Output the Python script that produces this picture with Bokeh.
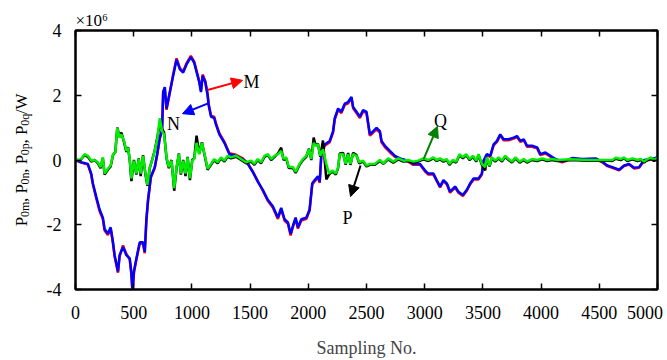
import math
from bokeh.plotting import figure
from bokeh.layouts import row
from bokeh.models import Arrow, NormalHead, LinearAxis, FixedTicker, Title, Label
from bokeh.core.properties import value
from bokeh.embed import file_html
from bokeh.resources import INLINE

# ---------------- data (values in units of 1e6 W) ----------------
sample_mn = [
    0, 49, 106, 135, 149, 178, 207, 235, 250, 278,
    302, 322, 336, 365, 379, 408, 437, 466, 480, 490,
    502, 523, 552, 580, 595, 609, 623, 647, 681, 704,
    724, 744, 753, 767, 782, 810, 839, 868, 897, 925,
    954, 991, 1020, 1063, 1078, 1092, 1115, 1135, 1144, 1164,
    1192, 1207, 1236, 1279, 1322, 1379, 1437, 1480, 1523, 1566,
    1609, 1652, 1695, 1739, 1767, 1796, 1825, 1848, 1868, 1891,
    1911, 1940, 1983, 2011, 2034, 2055, 2083, 2098, 2112, 2141,
    2184, 2213, 2227, 2256, 2284, 2313, 2342, 2371, 2385, 2414,
    2443, 2471, 2500, 2529, 2558, 2586, 2615, 2629, 2658, 2701,
    2744, 2802, 2859, 2902, 2960, 3002, 3031, 3075, 3103, 3132,
    3161, 3190, 3218, 3261, 3290, 3328, 3362, 3391, 3420, 3463,
    3491, 3506, 3534, 3563, 3592, 3621, 3649, 3678, 3721, 3764,
    3793, 3822, 3851, 3879, 3922, 3966, 3994, 4037, 4080, 4123,
    4181, 4267, 4353, 4468, 4526, 4569, 4612, 4670, 4713, 4756,
    4799, 4842, 4885, 4943, 4986, 5000,
]
n_vals = [
    0, -0.07, -0.12, -0.42, -0.72, -1.13, -1.53, -1.78, -2.13, -2.28,
    -2.08, -2.54, -2.94, -3.44, -2.94, -2.69, -2.94, -3.04, -3.49, -4.1,
    -3.44, -3.04, -2.54, -2.54, -2.84, -1.83, -1.23, -0.52, -0.22, 0.23,
    0.69, 0.94, 2.10, 2.25, 1.59, 2.10, 2.60, 3.10, 2.80, 2.70,
    2.95, 3.18, 3.00, 2.40, 2.10, 2.60, 2.40, 2.00, 1.69, 1.34,
    1.29, 1.09, 0.79, 0.53, 0.18, 0.13, 0.03, -0.12, -0.37, -0.67,
    -0.92, -1.23, -1.43, -1.78, -1.48, -1.83, -1.93, -2.28, -2.03, -1.78,
    -2.08, -1.83, -1.78, -1.53, -0.72, -0.62, -0.50, -0.67, 0.18, 0.48,
    0.59, 0.89, 1.29, 1.59, 1.49, 1.74, 1.79, 1.95, 1.64, 1.49,
    1.34, 1.54, 1.49, 0.79, 0.89, 0.99, 0.89, 0.59, 0.44, 0.28,
    0.13, 0.03, -0.02, -0.12, -0.12, -0.32, -0.42, -0.42, -0.62, -0.82,
    -0.62, -0.72, -0.98, -0.82, -0.98, -1.08, -0.92, -0.72, -0.57, -0.57,
    -0.42, -0.02, 0.18, 0.13, 0.48, 0.59, 0.79, 0.64, 0.64, 0.69,
    0.74, 0.59, 0.64, 0.44, 0.44, 0.39, 0.18, 0.23, 0.13, 0.03,
    -0.05, 0.06, 0.03, 0.05, -0.05, -0.17, -0.22, -0.30, -0.17, -0.12,
    -0.24, -0.22, 0.0, 0.03, 0.06, 0.12,
]
m_vals = [
    0, -0.08, -0.14, -0.45, -0.75, -1.18, -1.58, -1.82, -2.18, -2.32,
    -2.12, -2.58, -2.98, -3.48, -2.98, -2.64, -2.90, -3.08, -3.52, -4.1,
    -3.48, -3.08, -2.58, -2.58, -2.88, -1.88, -1.28, -0.55, -0.25, 0.20,
    0.66, 0.91, 2.06, 2.22, 1.55, 2.06, 2.64, 3.14, 2.84, 2.74,
    2.99, 3.22, 3.04, 2.44, 2.14, 2.64, 2.44, 2.04, 1.73, 1.38,
    1.33, 1.13, 0.83, 0.56, 0.21, 0.16, 0.05, -0.10, -0.35, -0.65,
    -0.95, -1.26, -1.47, -1.82, -1.52, -1.87, -1.97, -2.33, -2.07, -1.82,
    -2.12, -1.87, -1.82, -1.57, -0.76, -0.66, -0.54, -0.71, 0.14, 0.44,
    0.55, 0.85, 1.25, 1.55, 1.45, 1.70, 1.75, 1.91, 1.60, 1.45,
    1.30, 1.50, 1.45, 0.75, 0.85, 0.95, 0.85, 0.55, 0.40, 0.24,
    0.10, 0.0, -0.05, -0.15, -0.15, -0.35, -0.45, -0.45, -0.65, -0.85,
    -0.65, -0.75, -1.01, -0.85, -1.01, -1.11, -0.95, -0.75, -0.60, -0.60,
    -0.45, -0.05, 0.15, 0.10, 0.45, 0.56, 0.76, 0.61, 0.61, 0.66,
    0.71, 0.56, 0.61, 0.41, 0.41, 0.36, 0.15, 0.20, 0.10, 0.0,
    -0.07, 0.04, 0.01, 0.03, -0.07, -0.19, -0.24, -0.32, -0.19, -0.14,
    -0.26, -0.24, -0.02, 0.01, 0.04, 0.10,
]
sample_pq = [
    0, 43, 78, 106, 135, 164, 192, 215, 235, 250,
    278, 302, 322, 342, 359, 379, 394, 417, 437, 451,
    466, 480, 502, 523, 543, 560, 580, 601, 618, 638,
    658, 681, 704, 724, 744, 761, 782, 802, 825, 848,
    868, 888, 905, 925, 945, 963, 983, 1003, 1020, 1040,
    1063, 1086, 1115, 1135, 1164, 1192, 1221, 1250, 1279, 1307,
    1336, 1379, 1422, 1465, 1509, 1537, 1566, 1595, 1624, 1652,
    1681, 1710, 1739, 1767, 1787, 1810, 1833, 1868, 1891, 1925,
    1954, 1983, 2006, 2026, 2046, 2063, 2083, 2103, 2126, 2155,
    2178, 2207, 2236, 2256, 2270, 2299, 2321, 2342, 2362, 2385,
    2414, 2437, 2471, 2500, 2529, 2572, 2615, 2644, 2687, 2730,
    2773, 2816, 2859, 2902, 2945, 2988, 3031, 3075, 3103, 3132,
    3161, 3190, 3213, 3241, 3270, 3299, 3328, 3356, 3385, 3414,
    3443, 3463, 3491, 3520, 3534, 3557, 3577, 3606, 3635, 3664,
    3692, 3721, 3750, 3779, 3816, 3851, 3879, 3922, 3966, 4009,
    4052, 4095, 4138, 4250, 4400, 4584, 4612, 4641, 4684, 4713,
    4741, 4785, 4828, 4857, 4885, 4914, 4943, 4971, 5000,
]
q_vals = [
    0, 0, 0.18, 0.13, -0.02, 0.0, -0.07, -0.22, 0.08, -0.42,
    -0.27, -0.17, 0.18, 0.23, 0.99, 0.69, 0.79, 0.59, 0.28, 0.38,
    0.03, -0.57, -0.02, -0.42, 0.03, -0.42, 0.13, -0.42, -0.77, -0.22,
    -0.02, 0.28, 0.69, 1.29, 0.89, 0.79, 0.08, -0.22, -0.02, -0.87,
    -0.22, 0.18, -0.42, -0.02, -0.42, 0.08, -0.57, -0.02, 0.03, 0.53,
    0.18, 0.53, 0.08, -0.27, -0.12, 0.03, -0.07, 0.08, -0.02, 0.13,
    0.08, 0.13, 0.03, -0.07, -0.02, -0.12, 0.03, -0.07, 0.13, 0.18,
    0.03, 0.13, 0.18, 0.28, 0.03, 0.08, -0.22, -0.22, -0.37, -0.12,
    0.03, 0.13, 0.33, 0.03, 0.53, 0.44, 0.48, 0.13, 0.33, -0.12,
    -0.42, -0.32, -0.42, -0.22, 0.18, 0.18, -0.12, 0.18, -0.12, 0.18,
    0.13, -0.07, -0.02, -0.17, -0.12, -0.12, 0.0, -0.10, 0.05, -0.05,
    0.05, -0.02, 0.0, -0.05, -0.02, 0.05, 0.0, 0.08, 0.0, 0.05,
    -0.02, 0.03, -0.12, 0.0, -0.05, 0.18, 0.08, 0.18, 0.03, 0.13,
    -0.02, 0.18, -0.12, -0.22, 0.08, -0.17, 0.08, -0.02, 0.08, -0.02,
    0.13, 0.03, -0.05, 0.08, -0.05, 0.03, -0.05, 0.03, 0.0, 0.05,
    0.0, 0.03, 0.0, 0.02, 0.0, 0.0, 0.0, 0.07, 0.03, 0.08,
    0.0, 0.05, 0.0, 0.03, -0.05, 0.03, 0.08, 0.0, 0.08,
]
p_vals = [
    0, 0, 0.15, 0.10, -0.05, 0.0, -0.10, -0.25, 0.05, -0.45,
    -0.30, -0.20, 0.15, 0.25, 1.00, 0.72, 0.85, 0.55, 0.25, 0.40,
    0.0, -0.65, 0.0, -0.45, 0.05, -0.50, 0.15, -0.45, -0.80, -0.25,
    0.0, 0.30, 0.72, 1.10, 0.95, 0.85, 0.05, -0.25, 0.0, -0.95,
    -0.25, 0.20, -0.45, 0.0, -0.50, 0.10, -0.62, 0.0, 0.05, 0.75,
    0.20, 0.55, 0.05, -0.30, -0.15, 0.0, -0.10, 0.05, -0.05, 0.10,
    0.05, 0.10, 0.0, -0.10, -0.05, -0.15, 0.0, -0.10, 0.10, 0.15,
    0.0, 0.10, 0.20, 0.38, 0.0, 0.05, -0.25, -0.25, -0.40, -0.15,
    0.0, 0.10, 0.35, 0.0, 0.69, 0.45, 0.50, 0.10, 0.60, -0.60,
    -0.45, -0.35, -0.45, -0.25, 0.20, 0.22, -0.15, 0.22, -0.15, 0.22,
    0.15, -0.10, -0.05, -0.20, -0.15, -0.15, -0.03, -0.12, 0.02, -0.08,
    0.02, -0.05, -0.03, -0.08, -0.05, 0.02, -0.03, 0.05, -0.03, 0.02,
    -0.05, 0.0, -0.15, -0.03, -0.08, 0.15, 0.05, 0.15, 0.0, 0.10,
    -0.05, 0.15, -0.15, -0.32, 0.05, -0.20, 0.05, -0.05, 0.05, -0.05,
    0.10, 0.0, -0.08, 0.05, -0.08, 0.0, -0.08, 0.0, -0.03, 0.02,
    -0.03, 0.0, -0.03, 0.0, -0.02, -0.02, -0.03, 0.04, 0.0, 0.05,
    -0.03, 0.02, -0.03, 0.0, -0.08, 0.0, 0.05, -0.03, 0.05,
]

x_ticks = [0, 500, 1000, 1500, 2000, 2500, 3000, 3500, 4000, 4500, 5000]
y_ticks = [-4, -2, 0, 2, 4]
y_tick_labels = ["-4", "-2", "0", "2", "4"]
scale_text = "\u00d710\u2076"

# annotation arrows: name, start, end, label position
arrow_names = ["M", "N", "P", "Q"]
arrow_start_x = [1134, 1134, 2449, 2990]
arrow_start_y = [2.16, 1.74, -0.17, 0.02]
arrow_end_x = [1435, 919, 2363, 3110]
arrow_end_y = [2.46, 1.43, -1.13, 1.04]
arrow_text_x = [1512, 842, 2337, 3136]
arrow_text_y = [2.40, 1.10, -1.80, 1.22]
arrow_colors = ["#ff0000", "#0000ff", "#000000", "#008000"]

# y-axis label pieces (text, is_subscript)
ylabel_pieces = ["P", "0m", ", P", "0n", ", P", "0p", ", P", "0q", "/W"]
ylabel_is_sub = [False, True, False, True, False, True, False, True, False]

# ---------------- layout ----------------
FONT = "Liberation Serif"
TOTAL_W, H = 667, 360
LW = 36                       # narrow strip holding the rotated y label
W = TOTAL_W - LW
ML, MR, MT, MB = 75 - LW, 10, 30, 65
X0, X1, Y0, Y1 = 0, 5000, -4, 4

p = figure(width=W, height=H, x_range=(X0, X1), y_range=(Y0, Y1),
           output_backend="svg", toolbar_location=None, title=None,
           min_border_left=ML, min_border_right=MR,
           min_border_top=MT, min_border_bottom=MB,
           background_fill_color="white", border_fill_color="white")
p.xgrid.visible = False
p.ygrid.visible = False
p.outline_line_color = "black"
p.outline_line_width = 2

# lines
p.line(sample_mn, m_vals, line_color="#ff0000", line_width=2.5)
p.line(sample_mn, n_vals, line_color="#0000ff", line_width=2.5)
p.line(sample_pq, p_vals, line_color="#000000", line_width=2.5)
p.line(sample_pq, q_vals, line_color="#00ee00", line_width=2.5)

# axes
def style_axis(ax):
    ax.axis_line_width = 2
    ax.axis_line_color = "black"
    ax.major_tick_in = 6
    ax.major_tick_out = 0
    ax.major_tick_line_width = 1.5
    ax.major_tick_line_color = "black"
    ax.minor_tick_line_color = None
    ax.major_label_text_font = FONT
    ax.major_label_text_font_size = "18px"
    ax.major_label_text_color = "black"

xa = p.xaxis[0]
style_axis(xa)
xa.ticker = FixedTicker(ticks=x_ticks)
# last label nudged left (as in the original) so it stays inside the window
xa.major_label_overrides = {x_ticks[-1]: str(x_ticks[-1]) + "\u00a0"}
xa.major_label_standoff = 13
xa.axis_label = "Sampling No."
xa.axis_label_text_font = FONT
xa.axis_label_text_font_size = "18px"
xa.axis_label_text_font_style = "normal"
xa.axis_label_standoff = 12

ya = p.yaxis[0]
style_axis(ya)
ya.ticker = FixedTicker(ticks=y_ticks)
ya.major_label_overrides = {t: s for t, s in zip(y_ticks, y_tick_labels)}
ya.major_label_standoff = 14

top = LinearAxis(ticker=FixedTicker(ticks=x_ticks))
right = LinearAxis(ticker=FixedTicker(ticks=y_ticks))
for ax in (top, right):
    style_axis(ax)
    ax.major_label_text_color = None
    ax.major_label_text_font_size = "1px"
    ax.major_label_standoff = 0
p.add_layout(top, "above")
p.add_layout(right, "right")

# exponent marker as a left-aligned title above the frame
p.add_layout(Title(text=scale_text, align="left", text_font=FONT,
                   text_font_size="17px", text_font_style="normal",
                   text_color="black", standoff=2, offset=0), "above")

# arrows and their letters
for name, xs, ys, xe, ye, tx, ty, c in zip(arrow_names, arrow_start_x, arrow_start_y,
                                           arrow_end_x, arrow_end_y, arrow_text_x,
                                           arrow_text_y, arrow_colors):
    p.add_layout(Arrow(x_start=xs, y_start=ys, x_end=xe, y_end=ye,
                       line_color=c, line_width=2,
                       end=NormalHead(size=11, fill_color=c, line_color=c)))
    p.add_layout(Label(x=tx, y=ty, text=name, text_align="center",
                       text_baseline="middle", text_font=FONT,
                       text_font_size="18px", text_color="black"))

# ---------------- strip with the rotated y-axis label ----------------
# its frame is aligned with the main frame by the row layout, so it shares the y range
lab = figure(width=LW, height=H, x_range=(0, LW), y_range=(Y0, Y1),
             output_backend="svg", toolbar_location=None, title=None,
             min_border=0, background_fill_color="white",
             border_fill_color="white")
lab.axis.visible = False
lab.grid.visible = False
lab.outline_line_color = None

cw = {'P': .556, '0': .5, 'm': .778, 'n': .5, 'p': .5, 'q': .5, ',': .25,
      ' ': .25, '/': .278, 'W': .944}
MAIN_FS, SUB_FS = 17, 12
PX = (Y1 - Y0) / (H - MT - MB)        # data units per pixel along y
def wid(s, fs):
    return sum(cw[c] for c in s) * fs * PX
sizes = [SUB_FS if sub else MAIN_FS for sub in ylabel_is_sub]
total = sum(wid(s, fs) for s, fs in zip(ylabel_pieces, sizes))
pos = (Y0 + Y1) / 2.0 - total / 2.0
BASE_X = 21
for s, sub, fs in zip(ylabel_pieces, ylabel_is_sub, sizes):
    lab.text(x=[BASE_X + (3.5 if sub else 0.0)], y=[pos], text=[s], angle=math.pi / 2,
             text_align="left", text_baseline="alphabetic",
             text_font=value(FONT), text_font_size=value(f"{fs}px"),
             text_color="black")
    pos += wid(s, fs)

layout = row(lab, p)
open("out.html", "w").write(file_html(layout, INLINE))
